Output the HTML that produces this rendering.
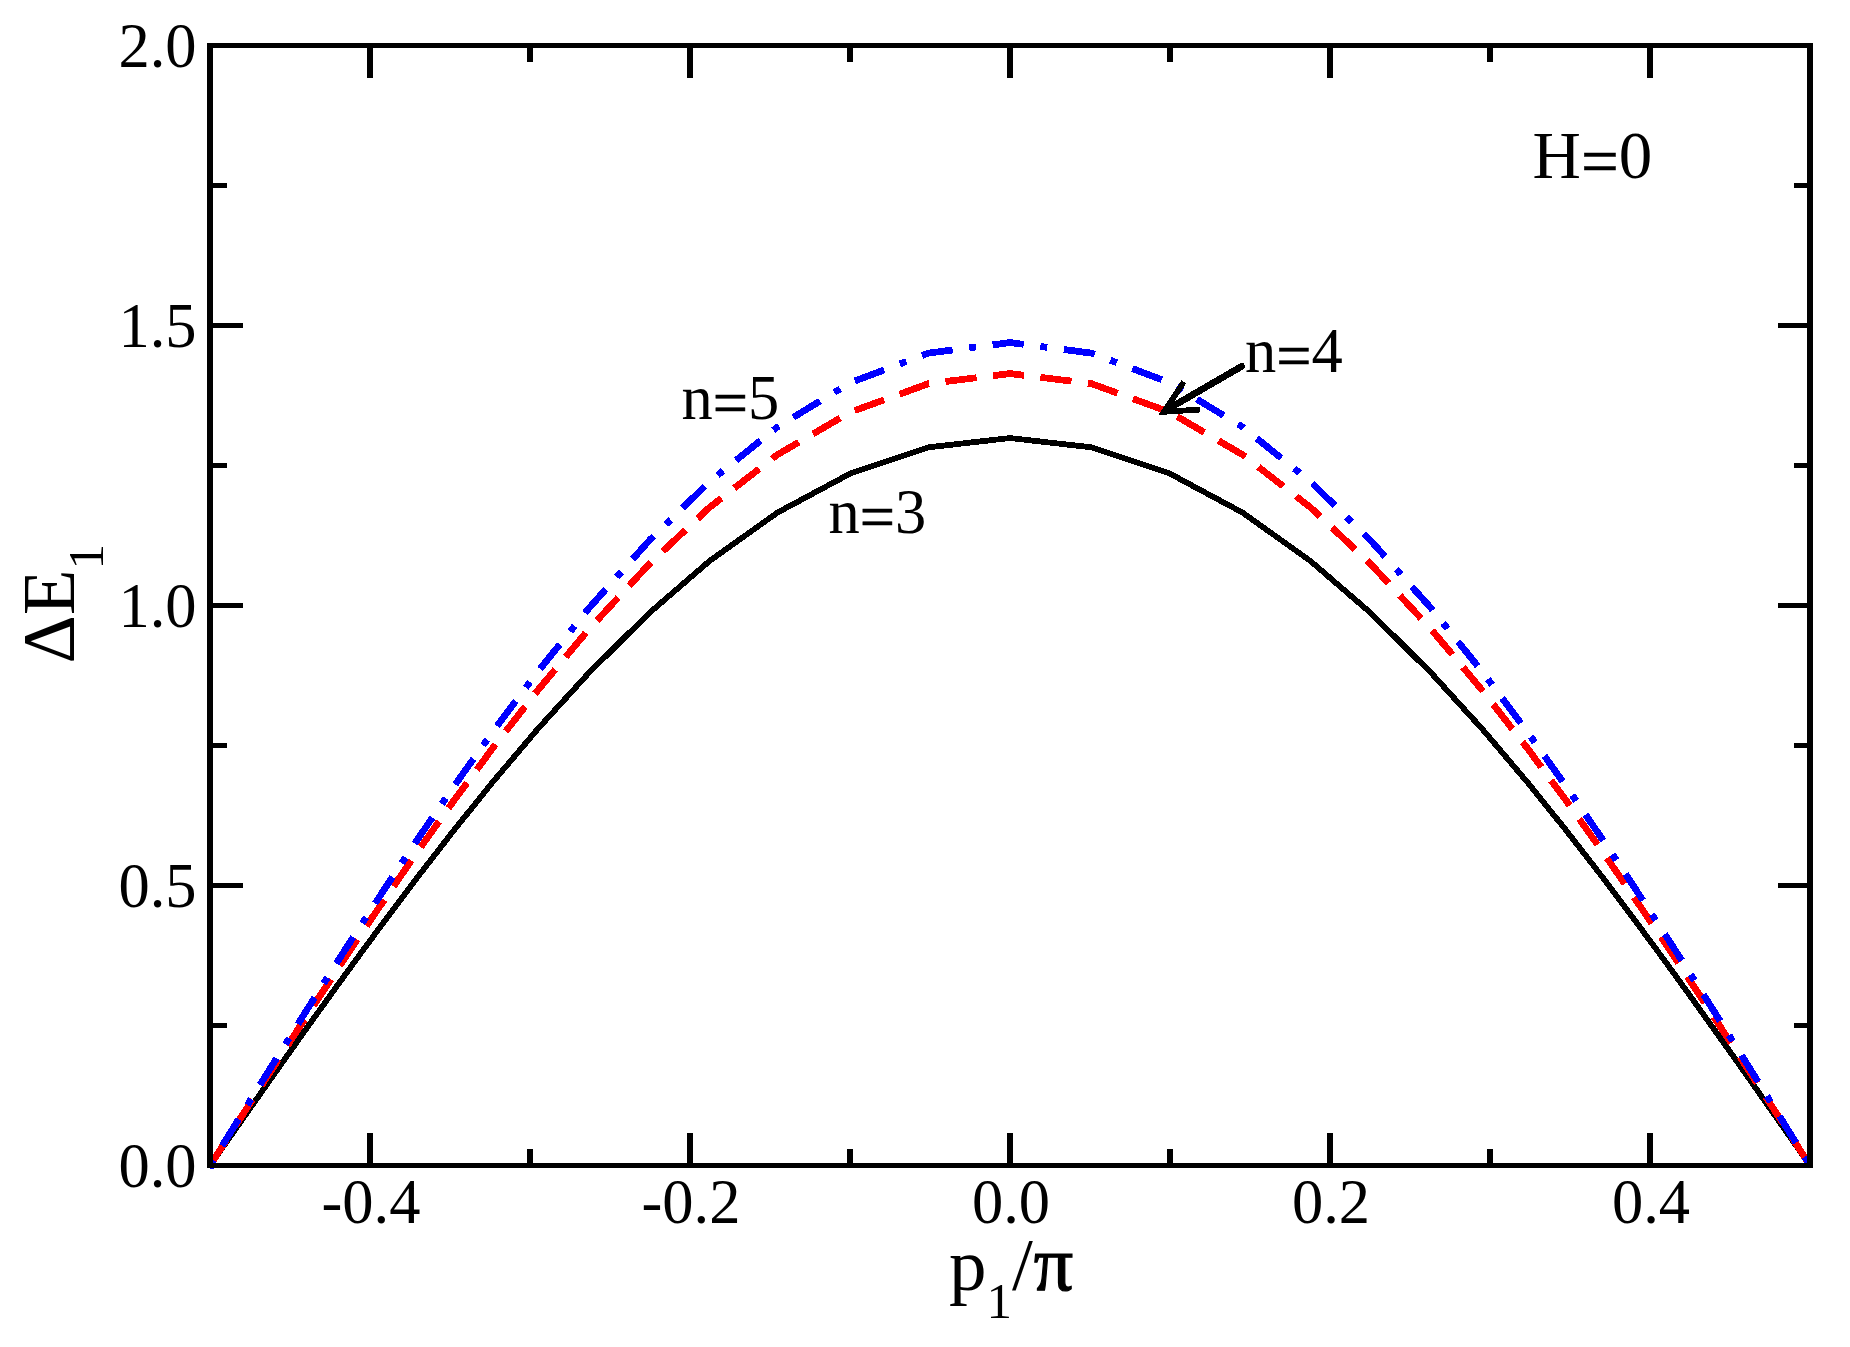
<!DOCTYPE html>
<html lang="en"><head><meta charset="utf-8"><title>Dispersion plot</title>
<style>html,body{margin:0;padding:0;background:#fff;}body{width:1850px;height:1347px;overflow:hidden;}svg{display:block;}text{font-family:"Liberation Serif","Times New Roman",serif;fill:#000;}</style></head><body>
<svg width="1850" height="1347" viewBox="0 0 1850 1347">
<rect x="0" y="0" width="1850" height="1347" fill="#fff"/>
<g fill="none" stroke-linejoin="miter" stroke-linecap="butt" shape-rendering="crispEdges">
<polyline points="210.00,1165.50 210.54,1164.72 210.64,1164.59 210.74,1164.44 210.87,1164.26 211.02,1164.05 211.19,1163.80 211.39,1163.51 211.63,1163.17 211.91,1162.77 212.23,1162.31 212.61,1161.77 213.06,1161.14 213.58,1160.39 214.18,1159.53 214.89,1158.51 215.73,1157.32 216.70,1155.93 217.84,1154.31 219.17,1152.40 220.73,1150.18 222.55,1147.57 224.69,1144.53 227.18,1140.96 230.10,1136.79 233.52,1131.92 237.52,1126.22 242.19,1119.55 247.66,1111.76 254.05,1102.66 261.53,1092.02 270.27,1079.62 280.48,1065.14 292.42,1048.29 306.35,1028.70 322.61,1005.97 341.55,979.68 363.60,949.41 389.21,914.77 418.89,875.42 453.16,831.22 492.55,782.30 537.55,729.23 588.57,673.21 649.36,612.93 709.28,561.21 777.39,512.61 850.51,473.42 928.51,447.33 1010.00,438.04 1091.49,447.33 1169.49,473.42 1242.61,512.61 1310.72,561.21 1370.64,612.93 1431.43,673.21 1482.45,729.23 1527.45,782.30 1566.84,831.22 1601.11,875.42 1630.79,914.77 1656.40,949.41 1678.45,979.68 1697.39,1005.97 1713.65,1028.70 1727.58,1048.29 1739.52,1065.14 1749.73,1079.62 1758.47,1092.02 1765.95,1102.66 1772.34,1111.76 1777.81,1119.55 1782.48,1126.22 1786.48,1131.92 1789.90,1136.79 1792.82,1140.96 1795.31,1144.53 1797.45,1147.57 1799.27,1150.18 1800.83,1152.40 1802.16,1154.31 1803.30,1155.93 1804.27,1157.32 1805.11,1158.51 1805.82,1159.53 1806.42,1160.39 1806.94,1161.14 1807.39,1161.77 1807.77,1162.31 1808.09,1162.77 1808.37,1163.17 1808.61,1163.51 1808.81,1163.80 1808.98,1164.05 1809.13,1164.26 1809.26,1164.44 1809.36,1164.59 1809.46,1164.72 1810.00,1165.50" stroke="#000" stroke-width="5.80"/>
<polyline points="210.00,1165.50 210.54,1164.66 210.64,1164.51 210.74,1164.34 210.87,1164.15 211.02,1163.92 211.19,1163.65 211.39,1163.33 211.63,1162.96 211.91,1162.53 212.23,1162.03 212.61,1161.44 213.06,1160.75 213.58,1159.94 214.18,1159.00 214.89,1157.89 215.73,1156.60 216.70,1155.08 217.84,1153.31 219.17,1151.24 220.73,1148.82 222.55,1145.98 224.69,1142.67 227.18,1138.79 230.10,1134.25 233.52,1128.94 237.52,1122.73 242.19,1115.48 247.66,1107.00 254.05,1097.09 261.53,1085.51 270.27,1072.00 280.48,1056.25 292.42,1037.90 306.35,1016.57 322.61,991.82 341.55,963.20 363.60,930.25 389.21,892.54 418.89,849.70 453.16,801.59 492.55,748.33 537.55,690.55 588.57,629.56 649.36,563.94 709.28,507.63 777.39,454.72 850.51,412.06 928.51,383.66 1010.00,373.54 1091.49,383.66 1169.49,412.06 1242.61,454.72 1310.72,507.63 1370.64,563.94 1431.43,629.56 1482.45,690.55 1527.45,748.33 1566.84,801.59 1601.11,849.70 1630.79,892.54 1656.40,930.25 1678.45,963.20 1697.39,991.82 1713.65,1016.57 1727.58,1037.90 1739.52,1056.25 1749.73,1072.00 1758.47,1085.51 1765.95,1097.09 1772.34,1107.00 1777.81,1115.48 1782.48,1122.73 1786.48,1128.94 1789.90,1134.25 1792.82,1138.79 1795.31,1142.67 1797.45,1145.98 1799.27,1148.82 1800.83,1151.24 1802.16,1153.31 1803.30,1155.08 1804.27,1156.60 1805.11,1157.89 1805.82,1159.00 1806.42,1159.94 1806.94,1160.75 1807.39,1161.44 1807.77,1162.03 1808.09,1162.53 1808.37,1162.96 1808.61,1163.33 1808.81,1163.65 1808.98,1163.92 1809.13,1164.15 1809.26,1164.34 1809.36,1164.51 1809.46,1164.66 1810.00,1165.50" stroke="#f00" stroke-width="6.80" stroke-dasharray="31.395 16.437" stroke-dashoffset="0.75"/>
<polyline points="210.00,1165.50 210.54,1164.62 210.64,1164.47 210.74,1164.30 210.87,1164.09 211.02,1163.85 211.19,1163.58 211.39,1163.25 211.63,1162.87 211.91,1162.42 212.23,1161.89 212.61,1161.28 213.06,1160.56 213.58,1159.72 214.18,1158.74 214.89,1157.59 215.73,1156.25 216.70,1154.68 217.84,1152.84 219.17,1150.68 220.73,1148.17 222.55,1145.22 224.69,1141.77 227.18,1137.74 230.10,1133.03 233.52,1127.51 237.52,1121.06 242.19,1113.52 247.66,1104.71 254.05,1094.41 261.53,1082.39 270.27,1068.35 280.48,1051.98 292.42,1032.91 306.35,1010.75 322.61,985.04 341.55,955.30 363.60,921.06 389.21,881.87 418.89,837.36 453.16,787.37 492.55,732.03 537.55,671.99 588.57,608.62 649.36,540.44 709.28,481.93 777.39,426.95 850.51,382.62 928.51,353.11 1010.00,342.60 1091.49,353.11 1169.49,382.62 1242.61,426.95 1310.72,481.93 1370.64,540.44 1431.43,608.62 1482.45,671.99 1527.45,732.03 1566.84,787.37 1601.11,837.36 1630.79,881.87 1656.40,921.06 1678.45,955.30 1697.39,985.04 1713.65,1010.75 1727.58,1032.91 1739.52,1051.98 1749.73,1068.35 1758.47,1082.39 1765.95,1094.41 1772.34,1104.71 1777.81,1113.52 1782.48,1121.06 1786.48,1127.51 1789.90,1133.03 1792.82,1137.74 1795.31,1141.77 1797.45,1145.22 1799.27,1148.17 1800.83,1150.68 1802.16,1152.84 1803.30,1154.68 1804.27,1156.25 1805.11,1157.59 1805.82,1158.74 1806.42,1159.72 1806.94,1160.56 1807.39,1161.28 1807.77,1161.89 1808.09,1162.42 1808.37,1162.87 1808.61,1163.25 1808.81,1163.58 1808.98,1163.85 1809.13,1164.09 1809.26,1164.30 1809.36,1164.47 1809.46,1164.62 1810.00,1165.50" stroke="#00f" stroke-width="6.80" stroke-dasharray="6.974 16.672 31.370 16.672" stroke-dashoffset="0.5"/>
</g>
<g fill="#000" shape-rendering="crispEdges"><rect x="207" y="43" width="1606" height="5"/><rect x="207" y="1163" width="1606" height="5"/><rect x="207" y="43" width="6" height="1125"/><rect x="1807" y="43" width="6" height="1125"/><rect x="367" y="48" width="6" height="30"/><rect x="367" y="1133" width="6" height="30"/><rect x="527" y="48" width="6" height="14"/><rect x="527" y="1149" width="6" height="14"/><rect x="687" y="48" width="6" height="30"/><rect x="687" y="1133" width="6" height="30"/><rect x="847" y="48" width="6" height="14"/><rect x="847" y="1149" width="6" height="14"/><rect x="1007" y="48" width="6" height="30"/><rect x="1007" y="1133" width="6" height="30"/><rect x="1167" y="48" width="6" height="14"/><rect x="1167" y="1149" width="6" height="14"/><rect x="1327" y="48" width="6" height="30"/><rect x="1327" y="1133" width="6" height="30"/><rect x="1487" y="48" width="6" height="14"/><rect x="1487" y="1149" width="6" height="14"/><rect x="1647" y="48" width="6" height="30"/><rect x="1647" y="1133" width="6" height="30"/><rect x="213" y="1023" width="14" height="5"/><rect x="1794" y="1023" width="13" height="5"/><rect x="213" y="883" width="30" height="5"/><rect x="1778" y="883" width="29" height="5"/><rect x="213" y="743" width="14" height="5"/><rect x="1794" y="743" width="13" height="5"/><rect x="213" y="603" width="30" height="5"/><rect x="1778" y="603" width="29" height="5"/><rect x="213" y="463" width="14" height="5"/><rect x="1794" y="463" width="13" height="5"/><rect x="213" y="323" width="30" height="5"/><rect x="1778" y="323" width="29" height="5"/><rect x="213" y="183" width="14" height="5"/><rect x="1794" y="183" width="13" height="5"/></g>
<rect x="210" y="1168" width="4" height="1" fill="#00f" shape-rendering="crispEdges"/>
<g fill="none" stroke="#000" shape-rendering="crispEdges">
<line x1="1241.6" y1="366.4" x2="1166" y2="410.2" stroke-width="6.8" stroke-linecap="round"/>
<polyline points="1183.8,381.8 1164.1,411.8 1200.3,409.5" stroke-width="5.8" stroke-linejoin="miter" stroke-miterlimit="10"/>
</g>
<g font-size="62.5">
<text x="196.5" y="1187.0" text-anchor="end">0.0</text>
<text x="196.5" y="907.0" text-anchor="end">0.5</text>
<text x="196.5" y="627.0" text-anchor="end">1.0</text>
<text x="196.5" y="347.0" text-anchor="end">1.5</text>
<text x="196.5" y="67.0" text-anchor="end">2.0</text>
<text x="371.0" y="1222.5" text-anchor="middle">-0.4</text>
<text x="691.0" y="1222.5" text-anchor="middle">-0.2</text>
<text x="1011.0" y="1222.5" text-anchor="middle">0.0</text>
<text x="1331.0" y="1222.5" text-anchor="middle">0.2</text>
<text x="1651.0" y="1222.5" text-anchor="middle">0.4</text>
<text x="1532.6" y="178" font-size="67">H<tspan dy="5.5" stroke="#000" stroke-width="0.5">=</tspan><tspan dy="-5.5">0</tspan></text>
<text x="681.5" y="419.3">n<tspan dy="5.1" stroke="#000" stroke-width="0.5">=</tspan><tspan dy="-5.1">5</tspan></text>
<text x="1245" y="371.8">n<tspan dy="5.1" stroke="#000" stroke-width="0.5">=</tspan><tspan dy="-5.1">4</tspan></text>
<text x="828.5" y="532.8">n<tspan dy="5.1" stroke="#000" stroke-width="0.5">=</tspan><tspan dy="-5.1">3</tspan></text>
</g>
<text x="949" y="1289.6" font-size="75">p<tspan font-size="51" dy="28.2">1</tspan><tspan dy="-28.2">/</tspan><tspan font-size="78" stroke="#000" stroke-width="1.2" dx="1">π</tspan></text>
<text transform="translate(73.7,663.5) rotate(-90)" font-size="75">ΔE<tspan font-size="51" dy="29.3">1</tspan></text>
</svg></body></html>
